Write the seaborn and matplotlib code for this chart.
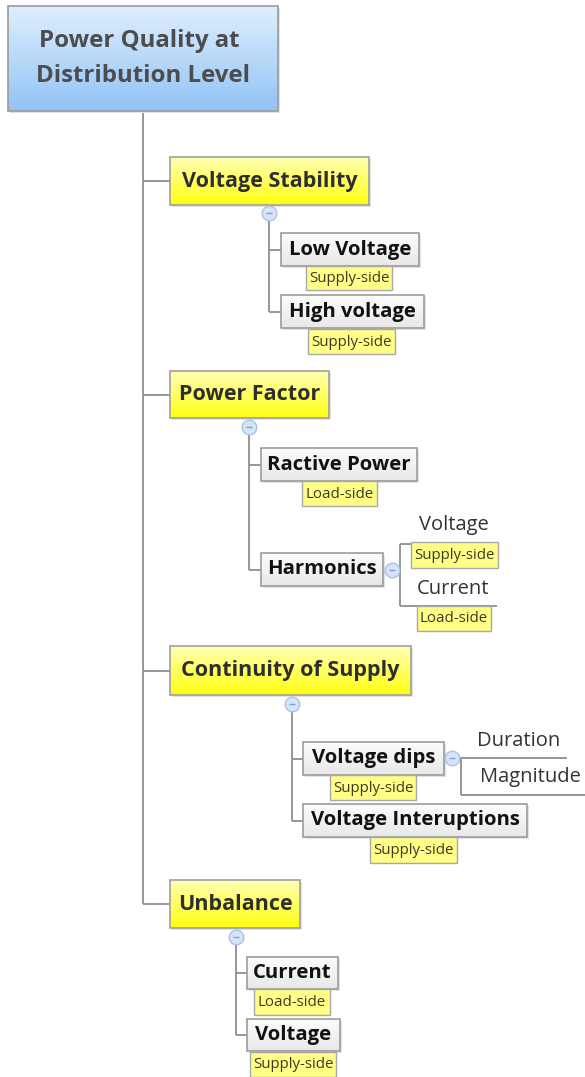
import numpy as np
import pandas as pd
import matplotlib.pyplot as plt
from matplotlib.patches import Rectangle
import seaborn as sns

# ---- content of the mind map ----
root_label = ["Power Quality at", "Distribution Level"]
topics = ["Voltage Stability", "Power Factor", "Continuity of Supply", "Unbalance"]
subtopics = [["Low Voltage", "High voltage"],
             ["Ractive Power", "Harmonics"],
             ["Voltage dips", "Voltage Interuptions"],
             ["Current", "Voltage"]]
sub_tags = [["Supply-side", "Supply-side"],
            ["Load-side", None],
            ["Supply-side", "Supply-side"],
            ["Load-side", "Supply-side"]]
harmonic_items = ["Voltage", "Current"]
harmonic_tags = ["Supply-side", "Load-side"]
dip_items = ["Duration", "Magnitude"]

# ---- layout (pixel coords, y grows downward) ----
root_box = (8, 6, 278, 111)
topic_boxes = [(170, 157, 369, 205), (170, 371, 329, 418),
               (170, 646, 411, 695), (170, 880, 300, 928)]
topic_folds = [(269, 213), (249, 427), (292, 704), (236, 937)]
sub_boxes = [[(281, 233, 419, 266), (281, 295, 424, 328)],
             [(261, 448, 417, 481), (261, 553, 383, 586)],
             [(303, 742, 444, 775), (303, 804, 527, 837)],
             [(247, 957, 338, 989), (247, 1019, 340, 1051)]]
tag_boxes = [[(306, 266, 392, 290), (308, 329, 395, 354)],
             [(302, 481, 377, 506), None],
             [(330, 775, 416, 800), (370, 837, 457, 863)],
             [(254, 989, 330, 1015), (250, 1052, 336, 1077)]]
harm_fold = (392, 570)
harm_text = [(454, 525), (453, 589)]
harm_lines = [(544, 498), (606, 497)]
harm_tag_boxes = [(411, 542, 498, 568), (417, 606, 491, 631)]
dip_fold = (452, 758)
dip_text = [(519, 741), (530, 777)]
dip_lines = [(758, 567), (795, 585)]

sns.set_style("white")
plt.rcParams['font.family'] = ['Open Sans', 'DejaVu Sans']

LINE = "#8f8f8f"
fig = plt.figure(figsize=(5.85, 10.77), dpi=100)
ax = fig.add_axes([0, 0, 1, 1])


def hline(y, x0, x1):
    ax.plot([x0, x1], [y, y], color=LINE, lw=1.3, zorder=1, solid_capstyle='butt')


def vline(x, y0, y1):
    ax.plot([x, x], [y0, y1], color=LINE, lw=1.3, zorder=1, solid_capstyle='butt')


def grad_box(box, top, bottom, edge="#a0a0a0", shadow=True):
    x0, y0, x1, y1 = box
    t = np.linspace(0, 1, 64)[:, None, None]
    c0 = np.array(plt.matplotlib.colors.to_rgb(top))[None, None, :]
    c1 = np.array(plt.matplotlib.colors.to_rgb(bottom))[None, None, :]
    img = c0 * (1 - t) + c1 * t
    if shadow:
        ax.add_patch(Rectangle((x0 + 1.5, y0 + 1.5), x1 - x0, y1 - y0, facecolor="#e2e2e2",
                               edgecolor="none", zorder=2))
    ax.imshow(img, extent=(x0, x1, y1, y0), origin='upper', aspect='auto',
              interpolation='bilinear', zorder=3)
    ax.add_patch(Rectangle((x0, y0), x1 - x0, y1 - y0, facecolor="none",
                           edgecolor=edge, lw=1.2, zorder=4))


def tag(box, label):
    x0, y0, x1, y1 = box
    ax.add_patch(Rectangle((x0, y0), x1 - x0, y1 - y0, facecolor="#ffff88",
                           edgecolor="#a8a8a8", lw=1.0, zorder=4))
    ax.text((x0 + x1) / 2, (y0 + y1) / 2 + 0.5, label, ha='center', va='center',
            fontsize=10.8, color="#3a3a20", zorder=5)


# connectors
topic_cy = [(b[1] + b[3]) / 2 for b in topic_boxes]
vline(143, root_box[3], topic_cy[-1])
for cy in topic_cy:
    hline(cy, 143, 170)

for i, (fx, fy) in enumerate(topic_folds):
    ys = [(b[1] + b[3]) / 2 for b in sub_boxes[i]]
    vline(fx, topic_boxes[i][3], ys[-1])
    for b, y in zip(sub_boxes[i], ys):
        hline(y, fx, b[0])

# harmonics children
hx, hy = harm_fold
hline(hy, sub_boxes[1][1][2], hx + 8)
vline(hx + 8, harm_lines[0][0], harm_lines[1][0])
for y, xe in harm_lines:
    hline(y, hx + 8, xe)

# voltage dips children
dx, dy = dip_fold
hline(dy, sub_boxes[2][0][2], dx + 9)
vline(dx + 9, dip_lines[0][0], dip_lines[1][0])
for y, xe in dip_lines:
    hline(y, dx + 9, xe)

# root
grad_box(root_box, "#deeffd", "#92c3f6", edge="#9a9a9a")
ax.text(139, 41, root_label[0], ha='center', va='center', fontsize=17.3,
        fontweight='bold', color="#4d4d4d", zorder=5)
ax.text(143, 76, root_label[1], ha='center', va='center', fontsize=17.3,
        fontweight='bold', color="#4d4d4d", zorder=5)

# topics
for label, b in zip(topics, topic_boxes):
    grad_box(b, "#ffffb4", "#ffff10", edge="#a0a0a0")
    ax.text((b[0] + b[2]) / 2, (b[1] + b[3]) / 2, label, ha='center', va='center',
            fontsize=15.5, fontweight='bold', color="#2e2e2e", zorder=5)

# subtopics and tags
for i in range(len(topics)):
    for label, b, tg, tb in zip(subtopics[i], sub_boxes[i], sub_tags[i], tag_boxes[i]):
        grad_box(b, "#fcfcfc", "#e8e8e8", edge="#9c9c9c")
        ax.text((b[0] + b[2]) / 2, (b[1] + b[3]) / 2, label, ha='center', va='center',
                fontsize=14.6, fontweight='bold', color="#111111", zorder=5)
        if tg is not None:
            tag(tb, tg)

for label, (x, y) in zip(harmonic_items, harm_text):
    ax.text(x, y, label, ha='center', va='center', fontsize=14.5, color="#333333", zorder=5)
for label, b in zip(harmonic_tags, harm_tag_boxes):
    tag(b, label)
for label, (x, y) in zip(dip_items, dip_text):
    ax.text(x, y, label, ha='center', va='center', fontsize=14.5, color="#333333", zorder=5)

# collapse markers
folds = pd.DataFrame(topic_folds + [harm_fold, dip_fold], columns=["x", "y"])
sns.scatterplot(data=folds, x="x", y="y", ax=ax, s=110, color="#d6e4f8",
                edgecolor="#a9c2e8", linewidth=1.0, zorder=6, legend=False)
sns.scatterplot(data=folds, x="x", y="y", ax=ax, s=18, marker="_", color="#7e9fd6",
                linewidth=1.0, zorder=7, legend=False)

ax.set_xlim(0, 585)
ax.set_ylim(1077, 0)
ax.set_axis_off()
fig.savefig("out.png", dpi=100, facecolor="white")
